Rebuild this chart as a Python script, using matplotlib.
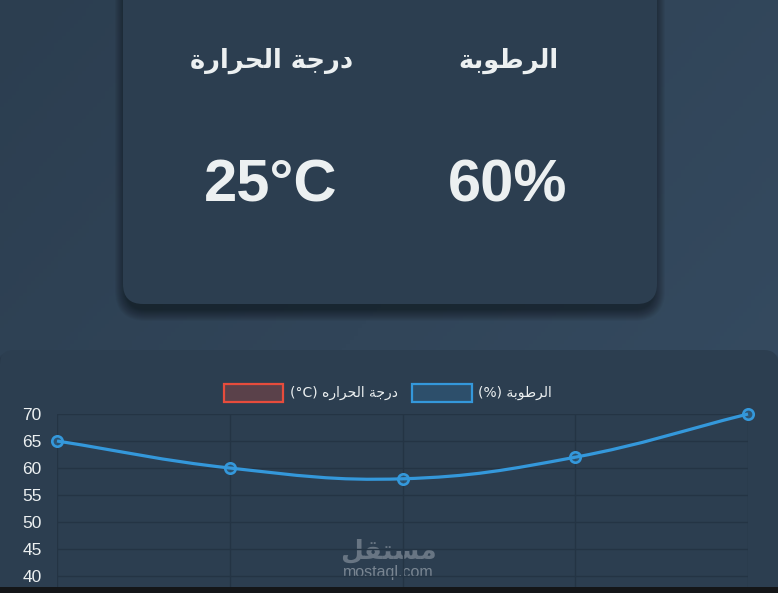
import numpy as np
import matplotlib.pyplot as plt
from matplotlib.patches import FancyBboxPatch, Rectangle
from matplotlib.path import Path
from matplotlib.patches import PathPatch

# data
humidity = [65, 60, 58, 62, 70]
y_ticks = [40, 45, 50, 55, 60, 65, 70]
current_temp = "25°C"
current_hum = "60%"

# Arabic labels, written as presentation forms in visual order (matplotlib has no shaping)
temp_title = "\uFE93\uFEAD\uFE8D\uFEAE\uFEA4\uFEDF\uFE8D \uFE94\uFE9F\uFEAD\uFEA9"   # درجة الحرارة
hum_title = "\uFE94\uFE91\uFEEE\uFEC3\uFEAE\uFEDF\uFE8D"                             # الرطوبة
temp_legend = "(°C) \uFEE9\uFEAD\uFE8D\uFEAE\uFEA4\uFEDF\uFE8D \uFE94\uFE9F\uFEAD\uFEA9"
hum_legend = "(%) " + hum_title
watermark_ar = "\uFEDE\uFED8\uFE98\uFEB4\uFEE3"                                       # مستقل

W, H = 778, 593
text_col = "#ecf0f1"
blue = "#3498db"
red = "#e74c3c"
card_col = "#2c3e50"

fig = plt.figure(figsize=(W / 100, H / 100), dpi=100)

# ---- page background, drawn in pixel coordinates
bg = fig.add_axes([0, 0, 1, 1])
bg.set_xlim(0, W)
bg.set_ylim(H, 0)
bg.axis("off")
c0 = np.array([44, 62, 80]) / 255
c1 = np.array([54, 76, 98]) / 255
gx, gy = np.meshgrid(np.linspace(0, 1, 200), np.linspace(0, 1, 150))
t = np.clip((gx * 0.6 + gy * 0.4), 0, 1)[..., None]
grad = c0 * (1 - t) + c1 * t
bg.imshow(grad, extent=[0, W, H, 0], aspect="auto", zorder=0)


def card(x, y, w, h, r, z):
    # soft drop shadow
    for k in range(12):
        s = FancyBboxPatch((x - k + 3, y + 9 - k + 3), w + 2 * k - 6, h + 2 * k - 6,
                           boxstyle=f"round,pad=0,rounding_size={r + k}",
                           fc="black", ec="none", alpha=0.04, zorder=z)
        bg.add_patch(s)
    bg.add_patch(FancyBboxPatch((x, y), w, h, boxstyle=f"round,pad=0,rounding_size={r}",
                                fc=card_col, ec="none", zorder=z + 1))


card(123, -40, 534, 344, 20, 1)
card(0, 350, W, 300, 14, 1)

# ---- stats card
bg.text(272, 61, temp_title, ha="center", va="center", color=text_col,
        fontsize=18.5, fontweight="bold", family=["DejaVu Sans"], zorder=5)
bg.text(508, 61, hum_title, ha="center", va="center", color=text_col,
        fontsize=18.5, fontweight="bold", family=["DejaVu Sans"], zorder=5)
bg.text(271, 202, current_temp, ha="center", va="baseline", color=text_col,
        fontsize=43, fontweight="bold", family=["Liberation Sans"], zorder=5)
bg.text(508, 202, current_hum, ha="center", va="baseline", color=text_col,
        fontsize=43, fontweight="bold", family=["Liberation Sans"], zorder=5)

# ---- legend (chart.js style boxes)
bg.add_patch(Rectangle((224, 384), 59, 18, fc=(231 / 255, 76 / 255, 60 / 255, 0.25),
                       ec=red, lw=1.6, zorder=5))
bg.text(290, 393, temp_legend, ha="left", va="center", color=text_col,
        fontsize=10, family=["DejaVu Sans"], zorder=5)
bg.add_patch(Rectangle((412, 384), 60, 18, fc=(52 / 255, 152 / 255, 219 / 255, 0.2),
                       ec=blue, lw=1.6, zorder=5))
bg.text(478, 393, hum_legend, ha="left", va="center", color=text_col,
        fontsize=10, family=["DejaVu Sans"], zorder=5)

# ---- chart
left, right, top, bottom = 57, 748, 414, 587
ax = fig.add_axes([left / W, (H - bottom) / H, (right - left) / W, (bottom - top) / H])
ax.set_facecolor("none")
xs = np.arange(len(humidity))
ax.set_xlim(0, len(humidity) - 1)
px_per_unit = (576 - 414) / 30
ax.set_ylim(40 - (bottom - 576) / px_per_unit, 70)
ax.set_yticks(y_ticks)
ax.set_xticks(xs)
ax.tick_params(axis="y", length=0, pad=11, labelcolor=text_col, labelsize=12.5)
ax.tick_params(axis="x", length=0, labelbottom=False)
for lab in ax.get_yticklabels():
    lab.set_family("Liberation Sans")
ax.grid(True, color="#243444", lw=1)
for sp in ax.spines.values():
    sp.set_visible(False)

# chart.js style smooth curve (tension 0.4), control points computed in display space
pts = ax.transData.transform(np.column_stack([xs, humidity]))
tension = 0.4
cps = []
for i in range(len(pts)):
    prev = pts[i - 1] if i > 0 else pts[i]
    nxt = pts[i + 1] if i < len(pts) - 1 else pts[i]
    d01 = np.hypot(*(pts[i] - prev))
    d12 = np.hypot(*(nxt - pts[i]))
    s01 = d01 / (d01 + d12) if d01 + d12 else 0
    s12 = d12 / (d01 + d12) if d01 + d12 else 0
    cps.append((pts[i] - tension * s01 * (nxt - prev), pts[i] + tension * s12 * (nxt - prev)))
verts = [pts[0]]
codes = [Path.MOVETO]
for i in range(len(pts) - 1):
    verts += [cps[i][1], cps[i + 1][0], pts[i + 1]]
    codes += [Path.CURVE4] * 3
verts = ax.transData.inverted().transform(np.array(verts))
ax.add_patch(PathPatch(Path(verts, codes), fc="none", ec=blue, lw=2.3, clip_on=False, zorder=3))
ax.plot(xs, humidity, ls="none", marker="o", ms=7.5, mew=1.9, mec=blue,
        mfc=(52 / 255, 152 / 255, 219 / 255, 0.25), clip_on=False, zorder=4)

# site watermark
bg.text(388, 551, watermark_ar, ha="center", va="center", color="#9aa4ae", alpha=0.55,
        fontsize=19, fontweight="bold", family=["DejaVu Sans"], zorder=6)
bg.text(388, 573, "mostaql.com", ha="center", va="center", color="#9aa4ae", alpha=0.7,
        fontsize=11.5, family=["Liberation Sans"], zorder=6)

# bottom dark strip
fig.add_artist(Rectangle((0, 0), 1, (H - bottom) / H, transform=fig.transFigure,
                         fc="#141618", ec="none", zorder=10))

fig.savefig("out.png", dpi=100)
